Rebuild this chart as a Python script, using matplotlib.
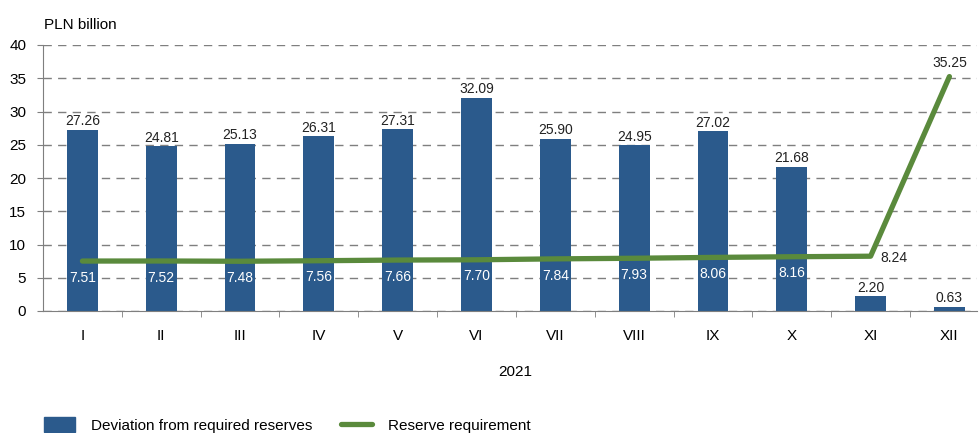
import matplotlib
matplotlib.use('Agg')
from matplotlib import pyplot as plt
from matplotlib.patches import Patch
from matplotlib.lines import Line2D

plt.rcParams['font.family'] = ['Liberation Sans', 'DejaVu Sans']

months = ['I', 'II', 'III', 'IV', 'V', 'VI', 'VII', 'VIII', 'IX', 'X', 'XI', 'XII']
deviation = [27.26, 24.81, 25.13, 26.31, 27.31, 32.09, 25.90, 24.95, 27.02, 21.68, 2.20, 0.63]
requirement = [7.51, 7.52, 7.48, 7.56, 7.66, 7.70, 7.84, 7.93, 8.06, 8.16, 8.24, 35.25]

bar_col = '#2B5A8C'
line_col = '#5A8A3C'
grey = '#7F7F7F'

fig = plt.figure(figsize=(9.8, 4.33), dpi=100)
ax = fig.add_axes([43/980, 122/433, 934/980, 266/433])

x = list(range(len(months)))
ax.bar(x, deviation, width=0.39, color=bar_col, zorder=2)
ax.plot(x, requirement, color=line_col, lw=3.8, solid_capstyle='round', zorder=3)

# bar labels
for i, v in enumerate(deviation):
    ax.annotate(f'{v:.2f}', (i, v), xytext=(0, 1), textcoords='offset points',
                ha='center', va='bottom', fontsize=10, color='#222222')

# line labels
for i, v in enumerate(requirement):
    if i < 10:
        ax.annotate(f'{v:.2f}', (i, v), xytext=(0, -12), textcoords='offset points',
                    ha='center', va='center', fontsize=10, color='white', zorder=4)
    elif i == 10:
        ax.annotate(f'{v:.2f}', (i, v), xytext=(7, -1), textcoords='offset points',
                    ha='left', va='center', fontsize=10, color='#222222')
    else:
        ax.annotate(f'{v:.2f}', (i, v), xytext=(0, 5), textcoords='offset points',
                    ha='center', va='bottom', fontsize=10, color='#222222')

ax.set_ylim(0, 40)
ax.set_xlim(-0.5, 11.35)
ax.set_yticks(range(0, 41, 5))
ax.yaxis.grid(True, color=grey, linestyle=(0, (6, 4.5)), lw=1.0, zorder=0)
ax.set_axisbelow(True)

ax.set_xticks(x)
ax.set_xticklabels(months)
ax.set_xticks([i + 0.5 for i in range(11)], minor=True)
ax.tick_params(axis='x', which='major', length=0, pad=13, labelsize=11)
ax.tick_params(axis='x', which='minor', length=4, color=grey, direction='out')
ax.tick_params(axis='y', length=4, color=grey, labelsize=11, pad=8)

for s in ['top', 'right']:
    ax.spines[s].set_visible(False)
for s in ['left', 'bottom']:
    ax.spines[s].set_color(grey)

fig.text(44/980, 1 - 25/433, 'PLN billion', fontsize=11, va='center', ha='left')
fig.text(515/980, 1 - 372/433, '2021', fontsize=11, va='center', ha='center')

handles = [Patch(color=bar_col), Line2D([0], [0], color=line_col, lw=3.8, solid_capstyle='round')]
fig.legend(handles, ['Deviation from required reserves', 'Reserve requirement'],
           loc='center left', bbox_to_anchor=(32/980, 1 - 425/433), ncol=2, frameon=False,
           fontsize=11, handlelength=2.03, handleheight=1.1, columnspacing=1.83,
           handletextpad=1.05, borderpad=0.3)

fig.savefig('out.png', dpi=100)
